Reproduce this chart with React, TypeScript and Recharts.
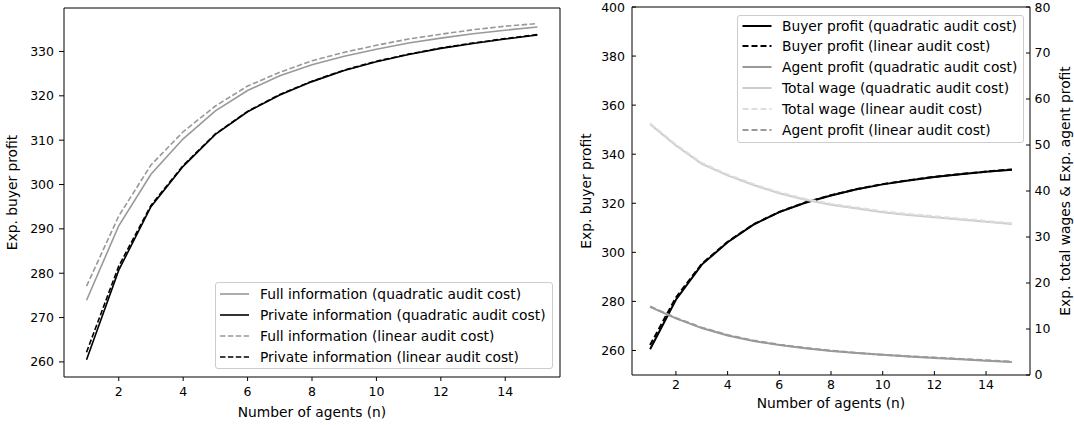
import React from 'react';
import { LineChart, Line, XAxis, YAxis } from 'recharts';

// ---------- data ----------
const agentsN = [1, 2, 3, 4, 5, 6, 7, 8, 9, 10, 11, 12, 13, 14, 15];
const xTicks = [2, 4, 6, 8, 10, 12, 14];

// left panel: expected buyer profit
const fullInfoQuad = [273.9, 290.7, 302.3, 310.3, 316.6, 321.2, 324.5, 327.0, 328.9, 330.5, 331.9, 333.0, 334.0, 334.8, 335.5];
const fullInfoLin = [277.1, 292.9, 304.4, 311.9, 317.7, 322.2, 325.3, 327.9, 329.8, 331.4, 332.8, 333.9, 334.9, 335.7, 336.3];
const privateInfoQuad = [260.5, 280.7, 295.0, 304.1, 311.3, 316.4, 320.2, 323.2, 325.7, 327.7, 329.3, 330.7, 331.8, 332.8, 333.7];
const privateInfoLin = [262.2, 281.6, 295.3, 304.3, 311.4, 316.5, 320.3, 323.3, 325.8, 327.8, 329.4, 330.8, 331.9, 332.9, 333.8];
const leftYTicks = [260, 270, 280, 290, 300, 310, 320, 330];

// right panel
const buyerProfitQuad = privateInfoQuad;
const buyerProfitLin = privateInfoLin;
const agentProfitQuad = [14.8, 12.3, 10.2, 8.6, 7.4, 6.5, 5.8, 5.2, 4.8, 4.4, 4.0, 3.7, 3.4, 3.1, 2.8];
const agentProfitLin = [14.9, 12.4, 10.3, 8.7, 7.5, 6.6, 5.9, 5.3, 4.8, 4.4, 4.1, 3.8, 3.5, 3.2, 2.9];
const totalWageQuad = [54.5, 49.9, 45.9, 43.4, 41.3, 39.5, 38.1, 37.0, 36.2, 35.4, 34.8, 34.3, 33.8, 33.3, 32.8];
const totalWageLin = [54.7, 50.1, 46.1, 43.6, 41.5, 39.7, 38.3, 37.2, 36.4, 35.6, 35.0, 34.5, 34.0, 33.5, 33.0];
const rightLeftTicks = [260, 280, 300, 320, 340, 360, 380, 400];
const rightRightTicks = [0, 10, 20, 30, 40, 50, 60, 70, 80];

const leftData = agentsN.map((n, i) => ({
  n,
  fullQuad: fullInfoQuad[i],
  fullLin: fullInfoLin[i],
  privQuad: privateInfoQuad[i],
  privLin: privateInfoLin[i],
}));

const rightData = agentsN.map((n, i) => ({
  n,
  buyerQuad: buyerProfitQuad[i],
  buyerLin: buyerProfitLin[i],
  agentQuad: agentProfitQuad[i],
  agentLin: agentProfitLin[i],
  wageQuad: totalWageQuad[i],
  wageLin: totalWageLin[i],
}));

const leftLegend = [
  { label: 'Full information (quadratic audit cost)', color: '#999999', dash: undefined },
  { label: 'Private information (quadratic audit cost)', color: '#000000', dash: undefined },
  { label: 'Full information (linear audit cost)', color: '#999999', dash: '5.5 2.4' },
  { label: 'Private information (linear audit cost)', color: '#000000', dash: '5.5 2.4' },
];

const rightLegend = [
  { label: 'Buyer profit (quadratic audit cost)', color: '#000000', dash: undefined },
  { label: 'Buyer profit (linear audit cost)', color: '#000000', dash: '6 3' },
  { label: 'Agent profit (quadratic audit cost)', color: '#999999', dash: undefined },
  { label: 'Total wage (quadratic audit cost)', color: '#cccccc', dash: undefined },
  { label: 'Total wage (linear audit cost)', color: '#dddddd', dash: '6 3' },
  { label: 'Agent profit (linear audit cost)', color: '#999999', dash: '6 3' },
];

const FONT = 'DejaVu Sans';
const TICK = { fill: '#000', fontSize: 12.5 };
const LABEL_FS = 13.8;

type LegendItem = { label: string; color: string; dash?: string };

function LegendBox(props: {
  items: LegendItem[];
  left: number; top: number; width: number; height: number;
  firstCenter: number; step: number; sx1: number; sx2: number; textX: number; sw: number;
}) {
  const { items, left, top, width, height, firstCenter, step, sx1, sx2, textX, sw } = props;
  return (
    <div style={{
      position: 'absolute', left, top, width, height, boxSizing: 'border-box',
      border: '1px solid #cccccc', borderRadius: 3, background: 'rgba(255,255,255,0.8)',
      fontFamily: FONT, fontSize: LABEL_FS, color: '#000',
    }}>
      {items.map((it, i) => {
        const cy = firstCenter + i * step;
        return (
          <div key={it.label} style={{ position: 'absolute', left: 0, top: cy - 10, height: 20, width: width - 2 }}>
            <svg width={sx2 + 2} height={20} style={{ position: 'absolute', left: 0, top: 0 }}>
              <line x1={sx1} x2={sx2} y1={10} y2={10} stroke={it.color} strokeWidth={sw} strokeDasharray={it.dash} />
            </svg>
            <div style={{ position: 'absolute', left: textX, top: 0, height: 20, lineHeight: '20px', whiteSpace: 'nowrap' }}>
              {it.label}
            </div>
          </div>
        );
      })}
    </div>
  );
}

export default function App() {
  return (
    <div style={{ position: 'absolute', left: 0, top: 0, width: 1074, height: 425, background: '#fff', fontFamily: FONT }}>
      {/* Left panel */}
      <div style={{ position: 'absolute', left: 0, top: 0 }}>
        <LineChart width={570} height={425} data={leftData} margin={{ top: 7, right: 9, bottom: 18, left: 0 }}>
          <XAxis
            dataKey="n" type="number" domain={[0.3, 15.7]} ticks={xTicks} allowDataOverflow
            height={30} tickSize={4} tickMargin={6} tick={TICK}
            axisLine={{ stroke: '#000' }} tickLine={{ stroke: '#000' }}
            label={{ value: 'Number of agents (n)', position: 'center', dy: 20, fill: '#000', fontSize: LABEL_FS }}
          />
          <XAxis xAxisId="top" orientation="top" dataKey="n" type="number" domain={[0.3, 15.7]} ticks={xTicks}
            height={1} tick={false} tickLine={false} axisLine={{ stroke: '#000' }} />
          <YAxis
            type="number" domain={[256.6, 339.8]} ticks={leftYTicks} allowDataOverflow
            width={64} tickSize={5} tickMargin={5} tick={TICK}
            axisLine={{ stroke: '#000' }} tickLine={{ stroke: '#000' }}
            label={{ value: 'Exp. buyer profit', angle: -90, position: 'center', dx: -20, fill: '#000', fontSize: LABEL_FS }}
          />
          <YAxis yAxisId="r" orientation="right" type="number" domain={[256.6, 339.8]} ticks={leftYTicks}
            width={1} tick={false} tickLine={false} axisLine={{ stroke: '#000' }} />
          <Line dataKey="fullQuad" stroke="#999999" strokeWidth={1.6} dot={false} type="linear" isAnimationActive={false} />
          <Line dataKey="privQuad" stroke="#000000" strokeWidth={1.6} dot={false} type="linear" isAnimationActive={false} />
          <Line dataKey="fullLin" stroke="#999999" strokeWidth={1.6} strokeDasharray="5.5 2.4" dot={false} type="linear" isAnimationActive={false} />
          <Line dataKey="privLin" stroke="#000000" strokeWidth={1.6} strokeDasharray="5.5 2.4" dot={false} type="linear" isAnimationActive={false} />
        </LineChart>
      </div>
      <LegendBox items={leftLegend} left={215} top={282} width={338} height={87}
        firstCenter={10.5} step={21} sx1={4} sx2={33} textX={44} sw={1.6} />

      {/* Right panel */}
      <div style={{ position: 'absolute', left: 560, top: 0 }}>
        <LineChart width={514} height={425} data={rightData} margin={{ top: 6, right: 0, bottom: 20, left: 20 }}>
          <XAxis
            dataKey="n" type="number" domain={[0.3, 15.7]} ticks={xTicks} allowDataOverflow
            height={30} tickSize={-4} tickMargin={9} tick={TICK}
            axisLine={{ stroke: '#000' }} tickLine={{ stroke: '#000' }}
            label={{ value: 'Number of agents (n)', position: 'center', dy: 13, fill: '#000', fontSize: LABEL_FS }}
          />
          <XAxis xAxisId="top" orientation="top" dataKey="n" type="number" domain={[0.3, 15.7]} ticks={xTicks}
            height={1} tickSize={-4} tick={false} axisLine={{ stroke: '#000' }} tickLine={{ stroke: '#000' }} />
          <YAxis
            yAxisId="left" type="number" domain={[250, 400]} ticks={rightLeftTicks} allowDataOverflow
            width={52} tickSize={-4} tickMargin={11} tick={TICK}
            axisLine={{ stroke: '#000' }} tickLine={{ stroke: '#000' }}
            label={{ value: 'Exp. buyer profit', angle: -90, position: 'center', dx: -20, fill: '#000', fontSize: LABEL_FS }}
          />
          <YAxis
            yAxisId="right" orientation="right" type="number" domain={[0, 80]} ticks={rightRightTicks} allowDataOverflow
            width={44} tickSize={-4} tickMargin={8.5} tick={TICK}
            axisLine={{ stroke: '#000' }} tickLine={{ stroke: '#000' }}
            label={{ value: 'Exp. total wages & Exp. agent profit', angle: -90, position: 'center', dx: 13, fill: '#000', fontSize: LABEL_FS }}
          />
          <Line yAxisId="left" dataKey="buyerQuad" stroke="#000000" strokeWidth={2} dot={false} type="linear" isAnimationActive={false} />
          <Line yAxisId="left" dataKey="buyerLin" stroke="#000000" strokeWidth={2} strokeDasharray="6 3" dot={false} type="linear" isAnimationActive={false} />
          <Line yAxisId="right" dataKey="agentQuad" stroke="#999999" strokeWidth={2} dot={false} type="linear" isAnimationActive={false} />
          <Line yAxisId="right" dataKey="wageQuad" stroke="#cccccc" strokeWidth={2} dot={false} type="linear" isAnimationActive={false} />
          <Line yAxisId="right" dataKey="wageLin" stroke="#dddddd" strokeWidth={2} strokeDasharray="6 3" dot={false} type="linear" isAnimationActive={false} />
          <Line yAxisId="right" dataKey="agentLin" stroke="#999999" strokeWidth={2} strokeDasharray="6 3" dot={false} type="linear" isAnimationActive={false} />
        </LineChart>
      </div>
      <LegendBox items={rightLegend} left={737} top={15} width={287} height={128}
        firstCenter={9.5} step={20.8} sx1={4.5} sx2={33.5} textX={44} sw={2} />
    </div>
  );
}
